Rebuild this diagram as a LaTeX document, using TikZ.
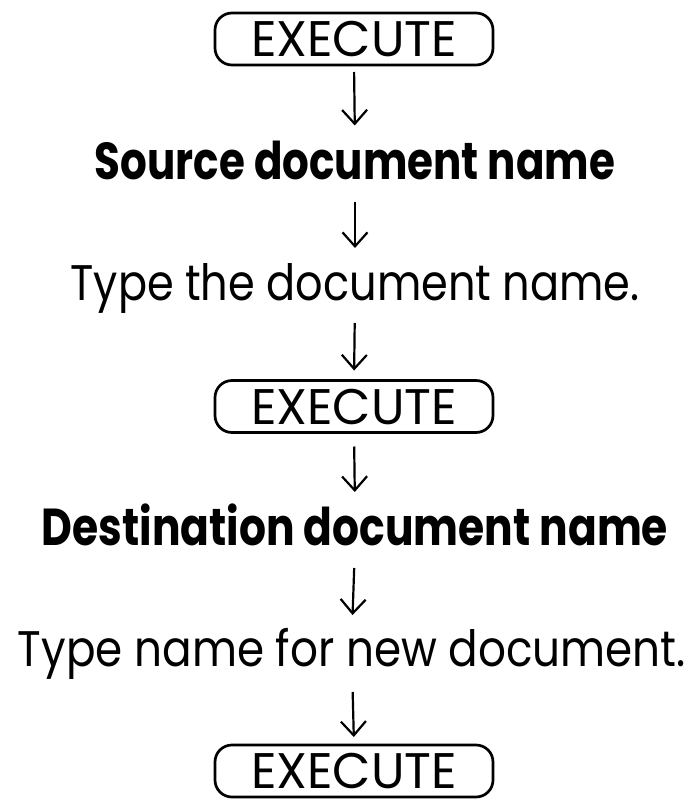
\documentclass[tikz,border=0pt]{standalone}
\usepackage{fontspec}
\usepackage{graphicx}
\setmainfont{Poppins}
\usetikzlibrary{arrows.meta}

% wording set to a fixed width, keeping its natural height
\newcommand{\fitw}[2]{\resizebox{#1}{\height}{#2}}

\tikzset{
  caps/.style={inner sep=0pt, outer sep=0pt, text height=35pt, text depth=0pt,
    font=\fontsize{50}{60}\selectfont},
  keycap/.style={caps, draw, line width=2.7pt, rounded corners=17pt,
    minimum width=278pt, minimum height=52pt},
  bold caps/.style={caps, text height=36pt, font=\fontsize{52}{60}\selectfont\bfseries},
  flowarrow/.style={line width=2.2pt,
    -{Straight Barb[length=14pt,width=25pt,line width=2.2pt]}},
}

\begin{document}
\begin{tikzpicture}[x=1pt, y=-1pt]
  \useasboundingbox[fill=white] (0,0) rectangle (696,800);

  \node[keycap]    (exec1) at (354,39)    {\fitw{206pt}{EXECUTE}};
  \node[bold caps] (src)   at (355,161.5) {\fitw{520pt}{Source document name}};
  \node[caps]      (typ1)  at (355,282.5) {\fitw{569pt}{Type the document name.}};
  \node[keycap]    (exec2) at (354,406.5) {\fitw{206pt}{EXECUTE}};
  \node[bold caps] (dst)   at (355,527)   {\fitw{626pt}{Destination document name}};
  \node[caps]      (typ2)  at (352,648.5) {\fitw{668pt}{Type name for new document.}};
  \node[keycap]    (exec3) at (354,771)   {\fitw{206pt}{EXECUTE}};

  \draw[flowarrow, shorten <=7pt,  shorten >=18pt] (exec1.south) -- (src.north);
  \draw[flowarrow, shorten <=22pt, shorten >=17pt] (src.south)   -- (typ1.north);
  \draw[flowarrow, shorten <=23pt, shorten >=10pt] (typ1.south)  -- (exec2.north);
  \draw[flowarrow, shorten <=14pt, shorten >=17pt] (exec2.south) -- (dst.north);
  \draw[flowarrow, shorten <=23pt, shorten >=16pt] (dst.south)   -- (typ2.north);
  \draw[flowarrow, shorten <=26pt, shorten >=8pt]  (typ2.south)  -- (exec3.north);
\end{tikzpicture}
\end{document}
